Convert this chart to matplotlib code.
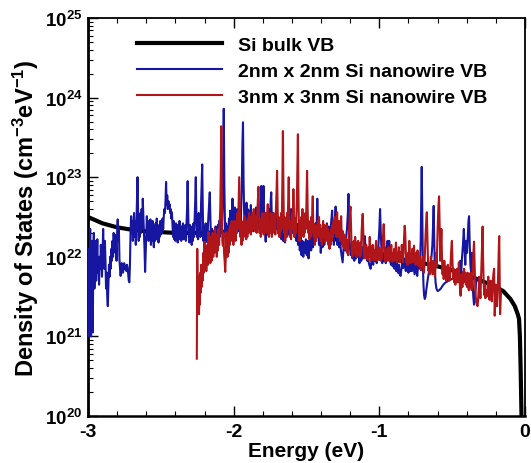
import numpy as np
import matplotlib
matplotlib.use("Agg")
import matplotlib.pyplot as plt
from matplotlib.ticker import MultipleLocator, LogLocator, NullFormatter

plt.rcParams.update({
    "font.family": ["Liberation Sans", "DejaVu Sans"],
    "font.weight": "bold",
    "mathtext.fontset": "custom",
    "mathtext.rm": "Liberation Sans:bold",
    "mathtext.it": "Liberation Sans:bold",
    "mathtext.bf": "Liberation Sans:bold",
    "mathtext.sf": "Liberation Sans:bold",
    "mathtext.default": "bf",
    "axes.unicode_minus": False,
})

# ---------------- data (energy in eV, log10 of DOS in cm^-3 eV^-1) ----------------
bulk_E = [-3.0, -2.9, -2.8, -2.7, -2.6, -2.5, -2.4, -2.3, -2.2, -2.1, -2.0, -1.9, -1.8,
          -1.7, -1.6, -1.5, -1.4, -1.3, -1.2, -1.1, -1.0, -0.9, -0.8, -0.7, -0.6, -0.5,
          -0.4, -0.3, -0.2, -0.15, -0.1, -0.07, -0.05, -0.041, -0.035, -0.03, -0.023]
bulk_logdos = [22.50, 22.42, 22.37, 22.34, 22.32, 22.31, 22.30, 22.30, 22.30, 22.31, 22.33,
               22.36, 22.39, 22.41, 22.41, 22.38, 22.31, 22.22, 22.14, 22.06, 21.99, 21.96,
               21.94, 21.92, 21.88, 21.83, 21.77, 21.70, 21.62, 21.57, 21.47, 21.38, 21.28,
               21.22, 21.0, 20.6, 19.9]

nw2_E = [
 -3.000, -2.997, -2.994, -2.991, -2.988, -2.985, -2.982, -2.979, -2.976, -2.973, -2.970, -2.967,
 -2.964, -2.960, -2.956, -2.952, -2.948, -2.944, -2.940, -2.936, -2.932, -2.928, -2.924, -2.920,
 -2.916, -2.912, -2.908, -2.904, -2.900, -2.896, -2.892, -2.888, -2.884, -2.880, -2.876, -2.872,
 -2.868, -2.864, -2.860, -2.856, -2.852, -2.848, -2.844, -2.840, -2.836, -2.832, -2.828, -2.824,
 -2.820, -2.816, -2.812, -2.808, -2.804, -2.800, -2.796, -2.792, -2.788, -2.784, -2.780, -2.776,
 -2.772, -2.768, -2.764, -2.760, -2.756, -2.752, -2.748, -2.744, -2.740, -2.736, -2.732, -2.728,
 -2.724, -2.720, -2.716, -2.712, -2.708, -2.704, -2.700, -2.696, -2.692, -2.688, -2.684, -2.680,
 -2.676, -2.672, -2.668, -2.664, -2.660, -2.656, -2.652, -2.648, -2.644, -2.640, -2.636, -2.632,
 -2.628, -2.624, -2.620, -2.616, -2.612, -2.608, -2.604, -2.600, -2.596, -2.592, -2.588, -2.584,
 -2.580, -2.576, -2.572, -2.568, -2.564, -2.560, -2.556, -2.552, -2.548, -2.544, -2.540, -2.536,
 -2.532, -2.528, -2.524, -2.520, -2.516, -2.512, -2.508, -2.504, -2.500, -2.496, -2.492, -2.488,
 -2.484, -2.480, -2.476, -2.472, -2.468, -2.464, -2.460, -2.456, -2.452, -2.448, -2.444, -2.440,
 -2.436, -2.432, -2.428, -2.424, -2.420, -2.416, -2.412, -2.408, -2.404, -2.400, -2.396, -2.392,
 -2.388, -2.384, -2.380, -2.376, -2.372, -2.368, -2.364, -2.360, -2.356, -2.352, -2.348, -2.344,
 -2.340, -2.336, -2.332, -2.328, -2.324, -2.320, -2.316, -2.312, -2.308, -2.304, -2.300, -2.296,
 -2.292, -2.288, -2.284, -2.280, -2.276, -2.272, -2.268, -2.264, -2.260, -2.256, -2.252, -2.248,
 -2.244, -2.240, -2.236, -2.232, -2.228, -2.224, -2.220, -2.216, -2.212, -2.208, -2.204, -2.200,
 -2.196, -2.192, -2.188, -2.184, -2.180, -2.176, -2.172, -2.168, -2.164, -2.160, -2.156, -2.152,
 -2.148, -2.144, -2.140, -2.136, -2.132, -2.128, -2.124, -2.120, -2.116, -2.112, -2.108, -2.104,
 -2.100, -2.096, -2.092, -2.088, -2.084, -2.080, -2.076, -2.072, -2.068, -2.064, -2.060, -2.056,
 -2.052, -2.048, -2.044, -2.040, -2.036, -2.032, -2.028, -2.024, -2.020, -2.016, -2.012, -2.008,
 -2.004, -2.000, -1.996, -1.992, -1.988, -1.984, -1.980, -1.976, -1.972, -1.968, -1.964, -1.960,
 -1.956, -1.952, -1.948, -1.944, -1.940, -1.936, -1.932, -1.928, -1.924, -1.920, -1.916, -1.912,
 -1.908, -1.904, -1.900, -1.894, -1.888, -1.882, -1.876, -1.870, -1.864, -1.858, -1.852, -1.846,
 -1.840, -1.834, -1.828, -1.822, -1.816, -1.810, -1.805, -1.800, -1.795, -1.790, -1.785, -1.780,
 -1.775, -1.770, -1.765, -1.760, -1.755, -1.750, -1.746, -1.742, -1.738, -1.732, -1.726, -1.720,
 -1.714, -1.708, -1.702, -1.696, -1.690, -1.684, -1.678, -1.672, -1.666, -1.660, -1.654, -1.648,
 -1.642, -1.636, -1.630, -1.624, -1.618, -1.612, -1.606, -1.600, -1.594, -1.588, -1.582, -1.576,
 -1.570, -1.564, -1.558, -1.552, -1.546, -1.540, -1.534, -1.528, -1.522, -1.516, -1.510, -1.504,
 -1.498, -1.492, -1.486, -1.480, -1.474, -1.468, -1.462, -1.456, -1.450, -1.444, -1.438, -1.432,
 -1.426, -1.420, -1.414, -1.408, -1.402, -1.396, -1.390, -1.384, -1.378, -1.372, -1.366, -1.360,
 -1.354, -1.348, -1.342, -1.336, -1.330, -1.324, -1.318, -1.312, -1.306, -1.300, -1.294, -1.288,
 -1.282, -1.276, -1.270, -1.264, -1.258, -1.252, -1.246, -1.240, -1.234, -1.228, -1.222, -1.216,
 -1.212, -1.208, -1.202, -1.196, -1.190, -1.184, -1.178, -1.172, -1.166, -1.160, -1.154, -1.148,
 -1.142, -1.136, -1.130, -1.124, -1.118, -1.112, -1.106, -1.100, -1.096, -1.090, -1.084, -1.078,
 -1.072, -1.066, -1.060, -1.054, -1.048, -1.042, -1.036, -1.030, -1.024, -1.018, -1.012, -1.006,
 -1.000, -0.995, -0.990, -0.985, -0.980, -0.974, -0.968, -0.962, -0.956, -0.950, -0.944, -0.938,
 -0.932, -0.926, -0.920, -0.914, -0.908, -0.902, -0.896, -0.890, -0.884, -0.878, -0.872, -0.866,
 -0.860, -0.854, -0.848, -0.842, -0.836, -0.830, -0.824, -0.818, -0.812, -0.806, -0.800, -0.794,
 -0.788, -0.782, -0.776, -0.770, -0.764, -0.758, -0.752, -0.746, -0.740, -0.734, -0.728, -0.722,
 -0.716, -0.712, -0.709, -0.705, -0.701, -0.697, -0.693, -0.688, -0.683, -0.678, -0.672, -0.666,
 -0.660, -0.654, -0.648, -0.642, -0.636, -0.631, -0.627, -0.623, -0.619, -0.614, -0.608, -0.600,
 -0.590, -0.578, -0.565, -0.550, -0.534, -0.518, -0.502, -0.486, -0.470, -0.458, -0.450, -0.444,
 -0.438, -0.432, -0.426, -0.420, -0.415, -0.410, -0.404, -0.398, -0.392, -0.388, -0.384, -0.380,
 -0.375, -0.370, -0.365, -0.360, -0.355, -0.350, -0.346, -0.342, -0.337, -0.332]
nw2_logdos = [
 21.90, 21.30, 22.10, 21.00, 21.80, 22.35, 21.40, 21.00, 21.70, 22.20, 21.50, 21.05,
 21.95, 22.30, 21.60, 21.95, 22.20, 21.70, 21.95, 22.22, 21.80, 21.95, 21.65, 22.00,
 21.85, 22.15, 21.97, 21.75, 22.05, 22.35, 22.05, 21.85, 22.20, 21.95, 21.60, 21.80,
 21.50, 21.38, 21.65, 21.90, 21.75, 22.00, 21.85, 22.10, 21.95, 22.20, 22.00, 22.30,
 22.10, 22.28, 22.05, 22.15, 21.95, 22.30, 22.47, 22.20, 22.35, 21.97, 21.85, 21.76,
 21.85, 21.92, 21.88, 21.80, 21.86, 21.92, 21.90, 21.84, 21.88, 21.82, 21.90, 21.86,
 21.78, 21.70, 21.68, 21.90, 22.30, 22.51, 22.30, 22.45, 22.20, 22.40, 22.55, 22.25,
 22.45, 22.15, 22.40, 22.70, 23.00, 22.55, 22.20, 22.45, 22.25, 22.55, 22.30, 22.60,
 22.35, 22.73, 22.50, 22.30, 22.10, 21.81, 22.05, 22.30, 22.51, 22.30, 22.45, 22.20,
 22.40, 22.25, 22.47, 22.15, 22.35, 22.20, 22.45, 22.25, 22.12, 22.38, 22.20, 22.42,
 22.22, 22.48, 22.25, 22.40, 22.18, 22.35, 22.25, 22.45, 22.28, 22.42, 22.30, 22.48,
 22.35, 22.50, 22.60, 22.55, 22.70, 22.94, 22.65, 22.77, 22.60, 22.70, 22.62, 22.66,
 22.55, 22.60, 22.48, 22.56, 22.40, 22.25, 22.45, 22.22, 22.38, 22.20, 22.42, 22.25,
 22.40, 22.18, 22.35, 22.22, 22.45, 22.25, 22.38, 22.20, 22.38, 22.25, 22.42, 22.22,
 22.38, 22.25, 22.40, 22.20, 22.42, 22.60, 22.95, 22.55, 22.25, 22.18, 22.40, 22.22,
 22.38, 22.15, 22.32, 22.20, 22.42, 22.25, 22.48, 22.70, 23.00, 22.50, 22.25, 22.42,
 22.22, 22.55, 22.30, 22.48, 22.25, 22.65, 22.90, 23.16, 22.60, 22.20, 22.38, 22.15,
 22.32, 22.42, 22.22, 22.38, 22.18, 22.42, 22.55, 22.70, 22.81, 22.50, 22.25, 22.15,
 22.35, 22.12, 22.30, 22.10, 22.32, 22.18, 22.38, 22.15, 22.35, 22.20, 22.40, 22.25,
 22.45, 22.25, 22.50, 22.32, 22.55, 22.38, 22.60, 23.20, 23.86, 22.90, 22.45, 22.25,
 22.42, 22.20, 22.38, 22.15, 22.32, 22.48, 22.30, 22.58, 22.35, 22.52, 22.32, 22.73,
 22.42, 22.58, 22.35, 22.62, 22.40, 22.55, 22.30, 22.60, 22.38, 22.52, 22.32, 22.48,
 22.58, 22.38, 22.62, 22.90, 23.40, 23.69, 22.95, 22.55, 22.40, 22.62, 22.45, 22.68,
 22.42, 22.60, 22.40, 22.58, 22.35, 22.65, 22.40, 22.55, 22.32, 22.58, 22.38, 22.62,
 22.42, 22.35, 22.58, 22.40, 22.70, 22.89, 22.50, 22.60, 22.89, 22.45, 22.30, 22.19,
 22.35, 22.28, 22.50, 22.40, 22.60, 22.50, 22.70, 22.81, 22.45, 22.55, 22.40, 22.31,
 22.45, 22.35, 22.52, 22.30, 22.48, 22.25, 22.42, 22.22, 22.40, 22.20, 22.38, 22.18,
 22.42, 22.25, 22.48, 22.28, 22.52, 22.32, 22.60, 22.38, 22.30, 22.50, 22.25, 22.42,
 22.20, 22.38, 22.15, 22.32, 22.08, 22.25, 22.02, 22.20, 22.00, 22.18, 22.05, 22.22,
 22.02, 22.20, 21.98, 22.15, 22.28, 22.08, 22.32, 22.12, 22.38, 22.18, 22.42, 22.28,
 22.73, 22.32, 22.15, 22.32, 22.05, 22.28, 22.12, 22.32, 22.15, 22.38, 22.22, 22.42,
 22.25, 22.38, 22.18, 22.32, 22.45, 22.58, 22.28, 22.15, 22.42, 22.63, 22.32, 22.15,
 22.30, 22.12, 22.25, 22.08, 22.00, 21.93, 22.10, 22.20, 22.08, 22.25, 22.35, 22.55,
 22.79, 22.40, 22.12, 22.02, 22.15, 21.98, 22.12, 21.95, 22.10, 21.98, 22.15, 22.00,
 22.12, 21.92, 22.08, 21.95, 22.12, 21.98, 22.15, 22.26, 22.15, 22.02, 21.95, 22.05,
 21.92, 21.88, 21.85, 21.95, 22.02, 21.90, 22.08, 21.95, 22.10, 21.92, 22.05, 22.15,
 22.35, 22.60, 22.30, 22.05, 21.92, 22.05, 21.95, 22.12, 21.92, 22.05, 22.20, 22.02,
 22.20, 21.95, 21.90, 22.02, 21.88, 21.98, 21.85, 21.95, 21.82, 21.92, 21.80, 21.90,
 21.78, 21.76, 21.85, 21.95, 21.86, 21.98, 21.88, 21.82, 21.95, 21.86, 21.80, 21.90,
 21.82, 21.92, 21.82, 21.95, 21.86, 21.78, 21.90, 21.84, 21.76, 21.88, 21.95, 21.85,
 22.20, 22.70, 23.13, 22.50, 21.90, 21.65, 21.52, 21.47, 21.50, 21.58, 21.66, 21.74,
 21.80, 21.86, 21.92, 22.00, 22.15, 22.40, 22.64, 22.20, 21.85, 21.68, 21.60, 21.57,
 21.58, 21.60, 21.64, 21.67, 21.69, 21.71, 21.72, 21.73, 21.75, 21.78, 21.85, 21.95,
 21.80, 22.00, 22.15, 22.35, 22.10, 21.90, 22.20, 22.05, 22.30, 22.45, 22.51, 22.20,
 21.90, 21.80, 22.05, 21.70, 21.50, 21.40, 21.43, 21.55, 21.65, 21.72]

nw3_E = [
 -2.253, -2.250, -2.247, -2.244, -2.241, -2.238, -2.235, -2.232, -2.229, -2.226, -2.223, -2.220,
 -2.216, -2.212, -2.208, -2.204, -2.200, -2.196, -2.192, -2.188, -2.184, -2.180, -2.176, -2.172,
 -2.168, -2.164, -2.160, -2.156, -2.152, -2.148, -2.144, -2.140, -2.136, -2.132, -2.128, -2.124,
 -2.120, -2.116, -2.112, -2.108, -2.104, -2.100, -2.096, -2.092, -2.088, -2.085, -2.082, -2.078,
 -2.074, -2.070, -2.066, -2.062, -2.058, -2.054, -2.050, -2.046, -2.042, -2.038, -2.034, -2.030,
 -2.026, -2.022, -2.018, -2.014, -2.010, -2.006, -2.002, -1.998, -1.994, -1.990, -1.986, -1.982,
 -1.978, -1.974, -1.970, -1.966, -1.962, -1.958, -1.954, -1.950, -1.946, -1.942, -1.938, -1.934,
 -1.930, -1.926, -1.922, -1.918, -1.914, -1.910, -1.906, -1.902, -1.898, -1.894, -1.890, -1.886,
 -1.882, -1.878, -1.874, -1.870, -1.866, -1.862, -1.858, -1.854, -1.850, -1.846, -1.842, -1.838,
 -1.834, -1.830, -1.826, -1.822, -1.818, -1.814, -1.810, -1.806, -1.802, -1.798, -1.794, -1.790,
 -1.786, -1.782, -1.778, -1.774, -1.770, -1.766, -1.762, -1.758, -1.754, -1.750, -1.746, -1.742,
 -1.738, -1.734, -1.730, -1.726, -1.722, -1.718, -1.714, -1.710, -1.706, -1.702, -1.698, -1.694,
 -1.690, -1.686, -1.682, -1.678, -1.674, -1.670, -1.666, -1.662, -1.658, -1.654, -1.650, -1.646,
 -1.642, -1.638, -1.634, -1.630, -1.626, -1.622, -1.618, -1.614, -1.610, -1.606, -1.602, -1.598,
 -1.594, -1.590, -1.586, -1.582, -1.578, -1.574, -1.570, -1.566, -1.562, -1.559, -1.556, -1.552,
 -1.548, -1.544, -1.540, -1.536, -1.532, -1.528, -1.524, -1.520, -1.516, -1.512, -1.508, -1.504,
 -1.500, -1.496, -1.492, -1.488, -1.484, -1.480, -1.476, -1.472, -1.468, -1.464, -1.460, -1.457,
 -1.454, -1.450, -1.446, -1.442, -1.438, -1.434, -1.430, -1.426, -1.422, -1.418, -1.414, -1.410,
 -1.406, -1.402, -1.398, -1.394, -1.390, -1.386, -1.382, -1.378, -1.374, -1.370, -1.366, -1.362,
 -1.358, -1.354, -1.350, -1.346, -1.342, -1.338, -1.334, -1.330, -1.326, -1.322, -1.318, -1.314,
 -1.310, -1.306, -1.302, -1.298, -1.294, -1.290, -1.286, -1.282, -1.278, -1.274, -1.270, -1.266,
 -1.262, -1.258, -1.254, -1.250, -1.246, -1.242, -1.238, -1.234, -1.230, -1.226, -1.222, -1.218,
 -1.214, -1.210, -1.206, -1.202, -1.198, -1.194, -1.190, -1.186, -1.182, -1.178, -1.174, -1.170,
 -1.166, -1.162, -1.158, -1.154, -1.150, -1.146, -1.142, -1.138, -1.134, -1.130, -1.126, -1.122,
 -1.118, -1.114, -1.110, -1.106, -1.102, -1.098, -1.094, -1.090, -1.086, -1.082, -1.078, -1.074,
 -1.070, -1.066, -1.062, -1.058, -1.054, -1.050, -1.046, -1.042, -1.038, -1.034, -1.030, -1.026,
 -1.022, -1.018, -1.014, -1.010, -1.006, -1.002, -0.998, -0.994, -0.990, -0.986, -0.982, -0.978,
 -0.974, -0.970, -0.966, -0.962, -0.958, -0.954, -0.950, -0.946, -0.942, -0.938, -0.934, -0.930,
 -0.926, -0.922, -0.918, -0.914, -0.910, -0.906, -0.902, -0.898, -0.894, -0.890, -0.886, -0.882,
 -0.878, -0.874, -0.870, -0.866, -0.862, -0.858, -0.854, -0.850, -0.846, -0.842, -0.838, -0.834,
 -0.830, -0.826, -0.822, -0.818, -0.814, -0.810, -0.806, -0.802, -0.798, -0.794, -0.790, -0.786,
 -0.782, -0.778, -0.774, -0.770, -0.766, -0.762, -0.758, -0.754, -0.750, -0.746, -0.742, -0.738,
 -0.734, -0.730, -0.726, -0.722, -0.718, -0.714, -0.710, -0.706, -0.702, -0.698, -0.694, -0.690,
 -0.686, -0.682, -0.678, -0.674, -0.670, -0.666, -0.662, -0.658, -0.654, -0.650, -0.646, -0.642,
 -0.638, -0.634, -0.630, -0.626, -0.622, -0.618, -0.614, -0.610, -0.606, -0.602, -0.598, -0.594,
 -0.590, -0.586, -0.582, -0.578, -0.574, -0.570, -0.566, -0.562, -0.558, -0.554, -0.550, -0.546,
 -0.542, -0.538, -0.534, -0.530, -0.526, -0.522, -0.518, -0.514, -0.510, -0.506, -0.502, -0.498,
 -0.494, -0.490, -0.486, -0.482, -0.478, -0.474, -0.470, -0.466, -0.462, -0.458, -0.454, -0.450,
 -0.446, -0.442, -0.438, -0.434, -0.430, -0.426, -0.422, -0.418, -0.414, -0.410, -0.406, -0.402,
 -0.398, -0.394, -0.390, -0.386, -0.382, -0.378, -0.374, -0.370, -0.366, -0.362, -0.358, -0.354,
 -0.350, -0.346, -0.342, -0.338, -0.334, -0.330, -0.326, -0.322, -0.318, -0.314, -0.310, -0.306,
 -0.302, -0.298, -0.294, -0.291, -0.288, -0.284, -0.280, -0.276, -0.272, -0.268, -0.264, -0.260,
 -0.256, -0.252, -0.248, -0.244, -0.240, -0.236, -0.232, -0.228, -0.224, -0.220, -0.216, -0.212,
 -0.208, -0.204, -0.200, -0.196, -0.192, -0.188, -0.184, -0.180, -0.177, -0.174, -0.171, -0.168,
 -0.165]
nw3_logdos = [
 20.72, 22.10, 21.60, 21.35, 21.75, 21.28, 21.50, 21.40, 21.80, 21.55, 21.90, 21.62,
 21.88, 21.70, 22.05, 21.80, 22.19, 21.90, 22.10, 21.82, 22.00, 22.15, 21.90, 22.31,
 22.00, 22.20, 21.92, 22.25, 21.95, 22.15, 22.30, 22.00, 22.20, 22.05, 22.35, 22.10,
 22.28, 22.00, 22.22, 22.08, 22.35, 22.15, 22.42, 22.60, 23.10, 23.64, 22.90, 22.20,
 22.14, 22.30, 22.05, 21.95, 21.81, 22.00, 22.31, 22.10, 22.00, 22.25, 22.05, 22.35,
 22.15, 22.40, 22.20, 22.45, 22.25, 22.40, 22.15, 22.45, 22.25, 22.38, 22.20, 22.45,
 22.30, 22.55, 22.35, 22.70, 23.00, 22.60, 22.25, 22.45, 22.15, 22.35, 22.20, 22.45,
 22.25, 22.51, 22.30, 22.45, 22.22, 22.40, 22.25, 22.48, 22.30, 22.55, 22.35, 22.50,
 22.28, 22.45, 22.32, 22.55, 22.35, 22.60, 22.40, 22.52, 22.32, 22.50, 22.30, 22.55,
 22.70, 22.88, 22.50, 22.30, 22.48, 22.25, 22.45, 22.32, 22.55, 22.38, 22.28, 22.50,
 22.35, 22.55, 22.40, 22.30, 22.50, 22.66, 22.35, 22.25, 22.45, 22.30, 22.55, 22.38,
 22.25, 22.48, 22.30, 22.55, 22.35, 22.50, 22.28, 22.60, 22.80, 23.08, 22.60, 22.30,
 22.50, 22.25, 22.45, 22.32, 22.55, 22.35, 22.90, 23.58, 22.80, 22.30, 22.50, 22.20,
 22.45, 22.25, 22.55, 22.35, 22.65, 23.00, 22.50, 22.25, 22.45, 22.22, 22.40, 22.55,
 22.35, 22.85, 22.45, 22.25, 22.48, 22.30, 22.50, 22.70, 23.20, 23.54, 22.90, 22.35,
 22.20, 22.45, 22.25, 22.50, 22.32, 22.60, 22.38, 22.25, 22.50, 22.30, 22.55, 22.35,
 22.70, 23.08, 22.60, 22.30, 22.45, 22.22, 22.40, 22.25, 22.50, 22.30, 22.60, 22.76,
 22.45, 22.25, 22.40, 22.15, 22.35, 22.20, 22.40, 22.25, 22.45, 22.30, 22.50, 22.25,
 22.40, 22.20, 22.35, 22.15, 22.30, 22.45, 22.25, 22.40, 22.18, 22.35, 22.20, 22.40,
 22.25, 22.35, 22.15, 22.28, 22.10, 22.30, 22.15, 22.35, 22.20, 22.40, 22.25, 22.45,
 22.30, 22.50, 22.32, 22.45, 22.25, 22.56, 22.35, 22.25, 22.45, 22.30, 22.20, 22.40,
 22.51, 22.25, 22.15, 22.32, 22.12, 22.28, 22.10, 22.25, 22.08, 22.22, 22.05, 22.20,
 22.02, 22.25, 22.40, 22.55, 22.63, 22.35, 22.10, 22.00, 22.18, 22.02, 22.20, 22.05,
 22.25, 22.08, 22.00, 22.18, 22.02, 22.20, 22.05, 22.15, 22.00, 22.18, 22.02, 22.30,
 22.45, 22.54, 22.30, 22.05, 21.98, 22.12, 22.00, 22.15, 21.98, 22.10, 21.96, 22.12,
 22.00, 22.25, 22.05, 21.95, 22.10, 21.98, 22.15, 22.02, 21.95, 22.08, 21.96, 22.12,
 22.20, 22.02, 21.95, 22.10, 21.98, 22.12, 21.96, 22.08, 21.95, 22.10, 21.97, 22.15,
 22.28, 22.41, 22.20, 22.00, 21.94, 22.08, 21.97, 22.10, 21.95, 22.12, 22.00, 22.08,
 21.95, 22.05, 22.15, 22.00, 21.94, 22.05, 21.97, 22.10, 21.95, 22.05, 22.18, 22.00,
 21.93, 22.05, 21.97, 22.12, 21.97, 21.93, 22.06, 21.97, 22.15, 22.00, 21.93, 22.05,
 22.25, 22.39, 22.30, 22.05, 21.93, 22.02, 21.90, 22.05, 21.97, 22.20, 22.00, 21.92,
 22.05, 21.95, 22.10, 21.93, 22.05, 22.14, 21.93, 22.02, 21.90, 22.05, 21.93, 22.08,
 21.90, 21.98, 21.88, 22.00, 21.90, 21.83, 21.95, 21.86, 22.00, 21.88, 21.80, 21.90,
 22.10, 22.30, 22.45, 22.56, 22.25, 21.95, 21.82, 21.92, 21.78, 21.88, 22.00, 21.82,
 21.92, 21.78, 21.95, 21.82, 21.90, 21.75, 21.88, 22.05, 21.88, 22.20, 22.45, 22.65,
 22.76, 22.40, 21.95, 22.10, 22.35, 22.00, 21.78, 21.90, 21.72, 21.95, 21.78, 21.88,
 21.70, 21.85, 21.72, 21.90, 21.75, 21.85, 21.70, 21.82, 21.95, 22.10, 22.20, 21.95,
 21.72, 21.85, 21.68, 21.80, 21.65, 21.82, 21.70, 21.85, 21.68, 21.80, 21.93, 21.78,
 21.58, 21.51, 21.62, 21.78, 21.62, 21.80, 21.68, 21.85, 21.70, 21.80, 21.65, 21.78,
 21.62, 21.80, 21.68, 21.58, 21.75, 21.62, 21.80, 21.65, 21.58, 21.72, 21.85, 22.05,
 22.19, 21.90, 21.65, 21.50, 21.45, 21.40, 21.38, 21.45, 21.60, 21.75, 21.60, 21.48,
 21.70, 21.95, 22.20, 22.38, 22.00, 21.70, 21.52, 21.65, 21.48, 21.58, 21.50, 21.51,
 21.65, 21.75, 21.52, 21.46, 21.62, 21.70, 21.52, 21.44, 21.60, 21.72, 21.80, 21.85,
 21.26, 21.45, 21.65, 21.48, 21.38, 21.55, 21.80, 22.10, 22.26, 21.80, 21.28, 21.40,
 21.55]

labels = ["Si bulk VB", "2nm x 2nm Si nanowire VB", "3nm x 3nm Si nanowire VB"]
xticks = [-3, -2, -1, 0]

# ---------------- figure ----------------
fig = plt.figure(figsize=(5.31, 4.64), dpi=100)
ax = fig.add_axes([88 / 531, 1 - 417 / 464, 437 / 531, 398 / 464])

ax.plot(bulk_E, 10 ** np.array(bulk_logdos), color="black", lw=3.0, label=labels[0],
        solid_joinstyle="round", zorder=2)
ax.plot(nw2_E, 10 ** np.array(nw2_logdos), color="#1616a0", lw=1.5, label=labels[1], zorder=3)
ax.plot(nw3_E, 10 ** np.array(nw3_logdos), color="#b01519", lw=1.5, label=labels[2], zorder=4)

ax.set_yscale("log")
ax.set_xlim(-3, 0)
ax.set_ylim(1e20, 1e25)
ax.set_xticks(xticks)
ax.set_xticklabels([str(t) for t in xticks])
ax.xaxis.set_minor_locator(MultipleLocator(0.2))
ax.yaxis.set_major_locator(LogLocator(base=10, numticks=10))
ax.yaxis.set_minor_locator(LogLocator(base=10, subs=np.arange(2, 10), numticks=20))
ax.yaxis.set_minor_formatter(NullFormatter())

ax.tick_params(axis="x", which="both", direction="in", top=True, bottom=True,
               labelsize=14, pad=5)
ax.tick_params(axis="y", which="both", direction="in", left=True, right=False,
               labelsize=13.5, pad=4)
ax.tick_params(which="major", length=7, width=1.0)
ax.tick_params(which="minor", length=3.5, width=0.8)

for side, sp in ax.spines.items():
    sp.set_linewidth(1.3)
ax.spines["left"].set_linewidth(2.0)
ax.spines["bottom"].set_linewidth(1.8)

ax.set_xlabel("Energy (eV)", fontsize=15, fontweight="bold", labelpad=1)
ax.set_ylabel("Density of States (cm$^{-3}$eV$^{-1}$)", fontsize=17, fontweight="bold",
              labelpad=3)

leg = ax.legend(loc="upper left", bbox_to_anchor=(0.112, 0.955), frameon=False,
                fontsize=14, handlelength=4.4, handletextpad=0.8, labelspacing=0.45,
                borderpad=0, borderaxespad=0)
for t in leg.get_texts():
    t.set_fontweight("bold")

fig.savefig("out.png", dpi=100)
